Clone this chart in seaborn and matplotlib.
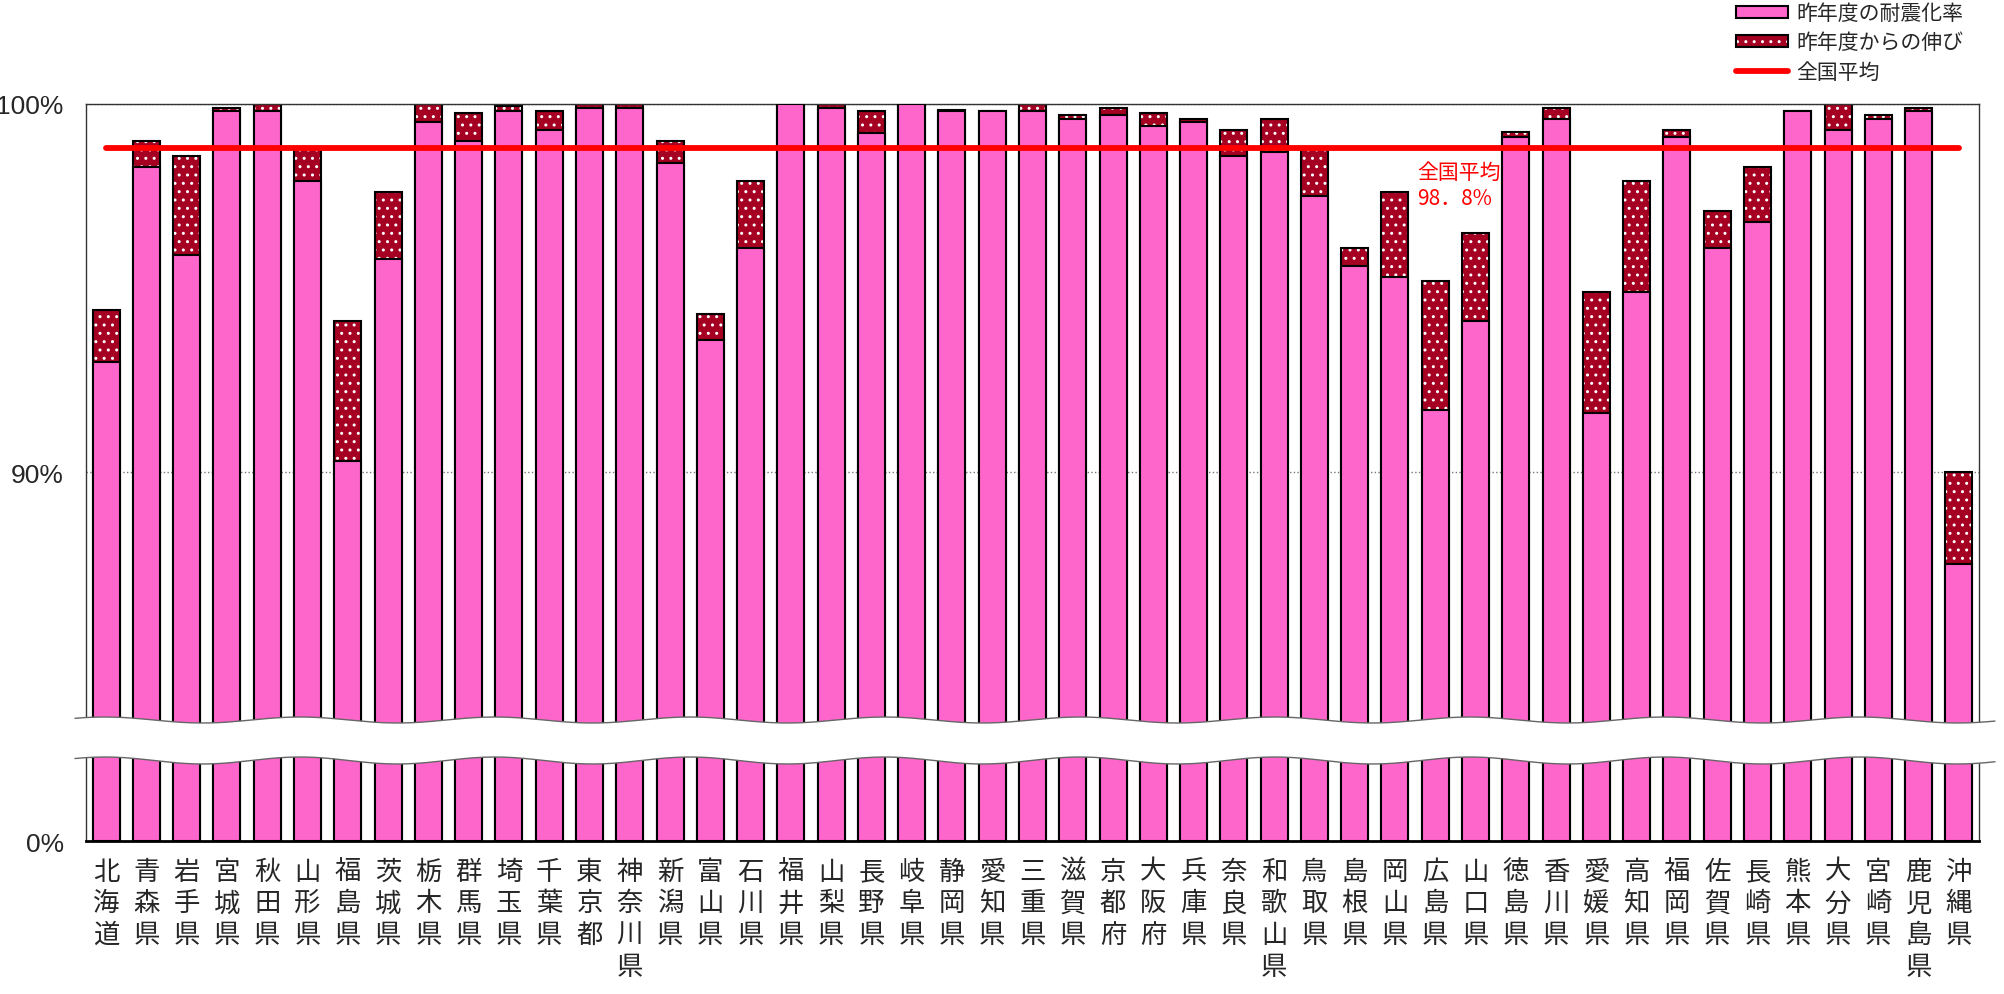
import matplotlib
matplotlib.use('Agg')
import matplotlib.pyplot as plt
from matplotlib.patches import Polygon
from matplotlib.lines import Line2D
import seaborn as sns
import pandas as pd
import numpy as np

# data
prefectures = ['北海道', '青森県', '岩手県', '宮城県', '秋田県', '山形県', '福島県', '茨城県',
               '栃木県', '群馬県', '埼玉県', '千葉県', '東京都', '神奈川県', '新潟県', '富山県',
               '石川県', '福井県', '山梨県', '長野県', '岐阜県', '静岡県', '愛知県', '三重県',
               '滋賀県', '京都府', '大阪府', '兵庫県', '奈良県', '和歌山県', '鳥取県', '島根県',
               '岡山県', '広島県', '山口県', '徳島県', '香川県', '愛媛県', '高知県', '福岡県',
               '佐賀県', '長崎県', '熊本県', '大分県', '宮崎県', '鹿児島県', '沖縄県']
prev_rate = [93.0, 98.3, 95.9, 99.8, 99.8, 97.9, 90.3, 95.8,
             99.5, 99.0, 99.8, 99.3, 99.9, 99.9, 98.4, 93.6,
             96.1, 100.0, 99.9, 99.2, 100.0, 99.8, 99.8, 99.8,
             99.6, 99.7, 99.4, 99.5, 98.6, 98.7, 97.5, 95.6,
             95.3, 91.7, 94.1, 99.1, 99.6, 91.6, 94.9, 99.1,
             96.1, 96.8, 99.8, 99.3, 99.6, 99.8, 87.5]
increase = [1.4, 0.7, 2.7, 0.1, 0.2, 0.9, 3.8, 1.8,
            0.5, 0.75, 0.15, 0.5, 0.1, 0.1, 0.6, 0.7,
            1.8, 0.0, 0.1, 0.6, 0.0, 0.05, 0.0, 0.2,
            0.1, 0.2, 0.35, 0.1, 0.7, 0.9, 1.3, 0.5,
            2.3, 3.5, 2.4, 0.15, 0.3, 3.3, 3.0, 0.2,
            1.0, 1.5, 0.0, 0.7, 0.1, 0.1, 2.5]
national_avg = 98.8
legend_labels = ['昨年度の耐震化率', '昨年度からの伸び', '全国平均']

PINK = '#FF66CC'
DARK_RED = '#A50021'

sns.set_theme(style='white')
plt.rcParams['font.family'] = ['Noto Sans CJK JP', 'DejaVu Sans']
plt.rcParams['hatch.linewidth'] = 1.0
NARROW = ['Liberation Sans Narrow', 'Liberation Sans', 'DejaVu Sans']

df = pd.DataFrame({'pref': prefectures, 'prev': prev_rate, 'inc': increase})
df['total'] = df['prev'] + df['inc']

W, H = 2004, 995
fig = plt.figure(figsize=(W / 100, H / 100), dpi=100)


def px_box(left, top, right, bottom):
    return [left / W, 1 - bottom / H, (right - left) / W, (bottom - top) / H]


ax_top = fig.add_axes(px_box(86, 105, 1979, 730))
ax_bot = fig.add_axes(px_box(86, 752, 1979, 842))

for ax in (ax_top, ax_bot):
    sns.barplot(data=df, x='pref', y='total', color=DARK_RED, saturation=1, width=0.67,
                edgecolor='black', linewidth=1.5, errorbar=None, hatch='..', ax=ax, zorder=2)
    for p in ax.patches:
        p._hatch_color = (1, 1, 1, 1)
    sns.barplot(data=df, x='pref', y='prev', color=PINK, saturation=1, width=0.67,
                edgecolor='black', linewidth=1.5, errorbar=None, ax=ax, zorder=3)
    ax.set_xlabel('')
    ax.set_ylabel('')
    ax.set_xlim(-0.5, len(prefectures) - 0.5)
    for s in ax.spines.values():
        s.set_color('#333333')
        s.set_linewidth(1)

# national average
x_idx = np.arange(len(prefectures))
avg_line, = ax_top.plot(x_idx, np.full(len(x_idx), national_avg), color='red', lw=4.2,
                        solid_capstyle='round', zorder=5)
ax_top.text(32.55, 98.45, '全国平均\n98．8%', color='red', fontsize=15,
            ha='left', va='top', linespacing=1.25, zorder=6)

# upper panel
ax_top.set_ylim(100 - (730 - 105) / 36.83, 100)
ax_top.set_yticks([90, 100])
ax_top.set_yticklabels(['90%', '100%'], family=NARROW, fontsize=19)
ax_top.set_axisbelow(True)
ax_top.yaxis.grid(True, linestyle=':', color='#777777', linewidth=1)
ax_top.tick_params(axis='y', length=0, pad=16)
ax_top.tick_params(axis='x', length=0, labelbottom=False)
ax_top.spines['bottom'].set_visible(False)

# lower panel
ax_bot.set_ylim(0, 5)
ax_bot.set_yticks([0])
ax_bot.set_yticklabels(['0%'], family=NARROW, fontsize=19)
ax_bot.tick_params(axis='y', length=0, pad=16)
ax_bot.set_xticks(x_idx)
ax_bot.set_xticklabels(['\n'.join(p) for p in prefectures], fontsize=19, linespacing=1.22,
                       va='top')
ax_bot.tick_params(axis='x', length=0, pad=12)
ax_bot.spines['top'].set_visible(False)
ax_bot.spines['bottom'].set_color('black')
ax_bot.spines['bottom'].set_linewidth(2)

# wavy break between the panels
xs = np.linspace(75, 1995, 400)
upper_wave = 721 - 3 * np.cos(2 * np.pi * (xs - 300) / 195)
lower_wave = 761.5 - 3.5 * np.cos(2 * np.pi * (xs - 300) / 195)
verts = np.column_stack([np.concatenate([xs, xs[::-1]]) / W,
                         1 - np.concatenate([upper_wave, lower_wave[::-1]]) / H])
fig.add_artist(Polygon(verts, closed=True, facecolor='white', edgecolor='none',
                       transform=fig.transFigure, zorder=10))
for wave in (upper_wave, lower_wave):
    fig.add_artist(Line2D(xs / W, 1 - wave / H, color='#666666', lw=1,
                          transform=fig.transFigure, zorder=11))

# legend
n = len(prefectures)
handles = [ax_top.patches[n], ax_top.patches[0], avg_line]
fig.legend(handles, legend_labels, loc='upper left', bbox_to_anchor=(1736 / W, 1 - 3 / H),
           frameon=False, fontsize=15, borderpad=0, borderaxespad=0,
           handlelength=2.5, handleheight=0.5, handletextpad=0.4, labelspacing=0.35)

fig.savefig('out.png', dpi=100, facecolor='white')
